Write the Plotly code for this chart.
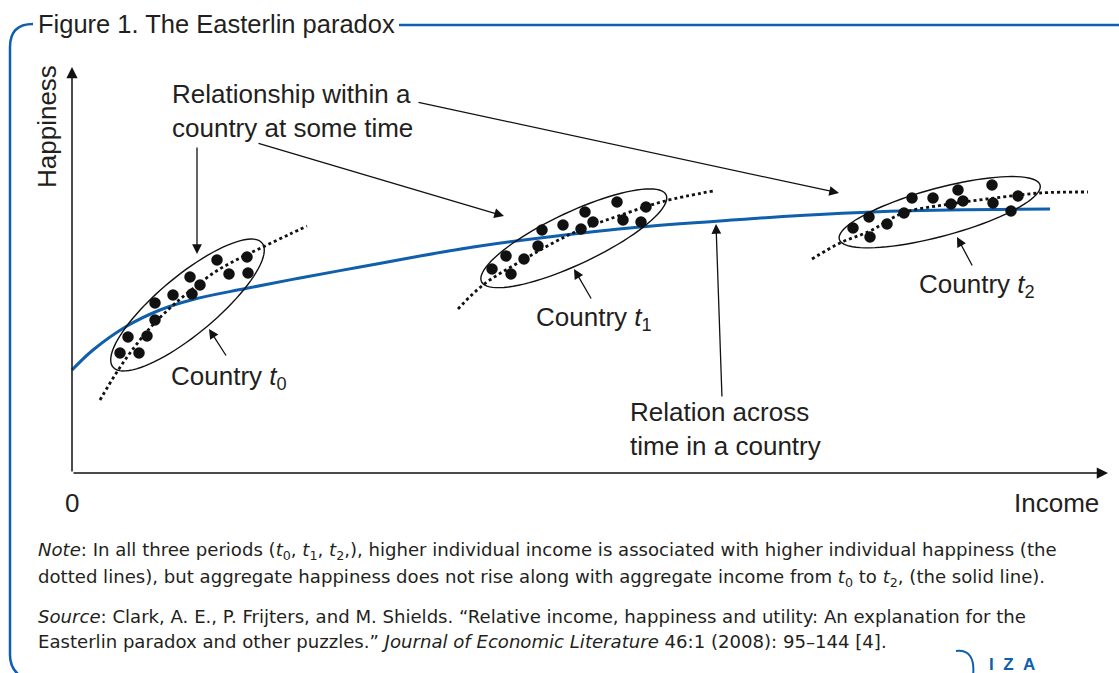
import numpy as np
import plotly.graph_objects as go

# ---------------- data (income, happiness in diagram units) ----------------
t0_income = [48, 67, 56, 75, 83, 83, 101, 120, 128, 118, 145, 157, 175, 176]
t0_happy = [120, 120, 136, 137, 153, 170, 178, 179, 188, 196, 213, 199, 216, 200]

t1_income = [420, 439, 434, 452, 466, 470, 491, 509, 513, 521, 545, 551, 569, 574]
t1_happy = [204, 199, 217, 214, 227, 243, 248, 244, 261, 251, 271, 253, 251, 266]

t2_income = [781, 798, 797, 815, 832, 840, 861, 879, 886, 891, 920, 921, 939, 946]
t2_happy = [245, 236, 256, 249, 260, 275, 275, 269, 283, 272, 288, 270, 262, 277]

# dotted within-country relationships
fit0_income = [28, 43, 58, 78, 98, 118, 143, 168, 193, 218, 235]
fit0_happy = [73, 98, 120, 145, 165, 182, 201, 215, 227, 239, 247]
fit1_income = [386, 411, 451, 501, 555, 593, 641]
fit1_happy = [164, 188, 213, 240, 260, 272, 282]
fit2_income = [740, 768, 798, 831, 871, 915, 968, 1016]
fit2_happy = [214, 230, 242, 260, 268, 274, 280, 281]

# solid across-time relation
agg_income = [0, 21, 55, 88, 121, 171, 228, 288, 348, 408, 468, 568, 668, 728, 828, 978]
agg_happy = [103, 123, 147, 163, 173.5, 184, 195, 206, 217, 227, 235, 246, 253.5, 257.5, 262, 264]

# ellipses: center income, center happiness, semi-major, semi-minor, angle (deg)
ell_cx = [115.5, 501.8, 867.7]
ell_cy = [168, 234.7, 260.8]
ell_a = [97, 102, 104]
ell_b = [29, 26, 24]
ell_ang = [39.8, 25.2, 15.1]

# ---------------- styling ----------------
FONT = "Liberation Sans, Arial, sans-serif"
NOTE_FONT = "DejaVu Sans, Liberation Sans, sans-serif"
TXT = "#231f20"
BLUE = "#0f5fad"


def d(px, py):
    """pixel position of the original drawing -> diagram units"""
    return px - 72, 473 - py


fig = go.Figure()

# blue aggregate line
fig.add_trace(go.Scatter(x=agg_income, y=agg_happy, mode="lines",
                         line=dict(color=BLUE, width=3, shape="spline", smoothing=1.0),
                         hoverinfo="skip"))

# dotted fit lines
for fx, fy in [(fit0_income, fit0_happy), (fit1_income, fit1_happy), (fit2_income, fit2_happy)]:
    fig.add_trace(go.Scatter(x=fx, y=fy, mode="lines",
                             line=dict(color="#111111", width=2.8, dash="3px,3px", shape="spline"),
                             hoverinfo="skip"))

# dots
for xs, ys in [(t0_income, t0_happy), (t1_income, t1_happy), (t2_income, t2_happy)]:
    fig.add_trace(go.Scatter(x=xs, y=ys, mode="markers",
                             marker=dict(color="#111111", size=11.5, line=dict(width=0)),
                             hoverinfo="skip"))

shapes = []
# ellipses
for cx, cy, a, b, ang in zip(ell_cx, ell_cy, ell_a, ell_b, ell_ang):
    phi = np.deg2rad(ang)
    th = np.linspace(0, 2 * np.pi, 90)
    ex = cx + a * np.cos(th) * np.cos(phi) - b * np.sin(th) * np.sin(phi)
    ey = cy + a * np.cos(th) * np.sin(phi) + b * np.sin(th) * np.cos(phi)
    path = "M " + " L ".join(f"{x:.2f},{y:.2f}" for x, y in zip(ex, ey)) + " Z"
    shapes.append(dict(type="path", path=path, xref="x", yref="y",
                       line=dict(color="#111111", width=1.4)))

# frame
p = [d(33, 24), d(10, 24), d(10, 47), d(10, 655), d(10, 673), d(28, 680)]
frame = (f"M {p[0][0]},{p[0][1]} Q {p[1][0]},{p[1][1]} {p[2][0]},{p[2][1]} "
         f"L {p[3][0]},{p[3][1]} Q {p[4][0]},{p[4][1]} {p[5][0]},{p[5][1]}")
shapes.append(dict(type="path", path=frame, xref="x", yref="y",
                   line=dict(color=BLUE, width=2.5)))
a1, a2 = d(399, 25), d(1125, 25)
shapes.append(dict(type="line", x0=a1[0], y0=a1[1], x1=a2[0], y1=a2[1], xref="x", yref="y",
                   line=dict(color=BLUE, width=2.5)))
# IZA logo curve
c = [d(956, 651), d(976, 649), d(973, 676)]
shapes.append(dict(type="path", path=f"M {c[0][0]},{c[0][1]} Q {c[1][0]},{c[1][1]} {c[2][0]},{c[2][1]}",
                   xref="x", yref="y", line=dict(color=BLUE, width=2)))

annotations = []


def arrow(tail, tip, width=1.3):
    tx, ty = d(*tail)
    hx, hy = d(*tip)
    annotations.append(dict(x=hx, y=hy, ax=tx, ay=ty, xref="x", yref="y", axref="x", ayref="y",
                            text="", showarrow=True, arrowhead=2, arrowsize=1.5,
                            arrowwidth=width, arrowcolor="#111111", standoff=0, startstandoff=0))


# axes
arrow((72, 473), (72, 67), 1.5)
arrow((72, 473), (1108, 473), 1.5)
# pointers
arrow((197, 146), (197, 254))
arrow((257, 143), (504, 216))
arrow((417, 102), (839, 193))
arrow((227, 357), (209, 329))
arrow((592, 300), (574, 269))
arrow((973, 267), (957, 237))
arrow((722, 398), (716, 224))


def label(px, py, text, size=26, xanchor="left", family=FONT, **kw):
    x, y = d(px, py)
    annotations.append(dict(x=x, y=y, xref="x", yref="y", text=text, showarrow=False,
                            xanchor=xanchor, yanchor="middle", align="left",
                            font=dict(family=family, size=size, color=TXT), **kw))


label(36, 24, "Figure 1. The Easterlin paradox", size=25.5, bgcolor="white")
label(47, 127, "Happiness", xanchor="center", textangle=-90)
label(72, 503, "0", xanchor="center")
label(1101, 503, "Income", xanchor="right")
label(170, 111, "Relationship within a<br>country at some time")
label(169, 377, "Country <i>t</i><sub>0</sub>")
label(534, 318, "Country <i>t</i><sub>1</sub>")
label(917, 285, "Country <i>t</i><sub>2</sub>")
label(628, 429, "Relation across<br>time in a country")

NS = 18.1
label(36, 551, "<i>Note</i>: In all three periods (<i>t</i><sub>0</sub>, <i>t</i><sub>1</sub>, <i>t</i><sub>2</sub>,), "
               "higher individual income is associated with higher individual happiness (the",
      size=NS, family=NOTE_FONT)
label(36, 578, "dotted lines), but aggregate happiness does not rise along with aggregate income from "
               "<i>t</i><sub>0</sub> to <i>t</i><sub>2</sub>, (the solid line).", size=NS, family=NOTE_FONT)
label(36, 616, "<i>Source</i>: Clark, A. E., P. Frijters, and M. Shields. \u201cRelative income, "
               "happiness and utility: An explanation for the", size=NS, family=NOTE_FONT)
label(36, 641, "Easterlin paradox and other puzzles.\u201d <i>Journal of Economic Literature</i> "
               "46:1 (2008): 95\u2013144 [4].", size=NS, family=NOTE_FONT)

x, y = d(987, 664)
annotations.append(dict(x=x, y=y, xref="x", yref="y",
                        text="<b>I&nbsp;&nbsp;Z&nbsp;&nbsp;A</b>", showarrow=False,
                        xanchor="left", yanchor="middle",
                        font=dict(family=FONT, size=17, color=BLUE)))

fig.update_layout(
    width=1119, height=673,
    margin=dict(l=0, r=0, t=0, b=0),
    paper_bgcolor="white", plot_bgcolor="white",
    showlegend=False,
    xaxis=dict(visible=False, range=[-72, 1047], fixedrange=True),
    yaxis=dict(visible=False, range=[-200, 473], fixedrange=True),
    shapes=shapes,
    annotations=annotations,
)

fig.write_html("out.html", config={"displayModeBar": False},
               post_script="document.body.style.margin='0';document.body.style.overflow='hidden';")
